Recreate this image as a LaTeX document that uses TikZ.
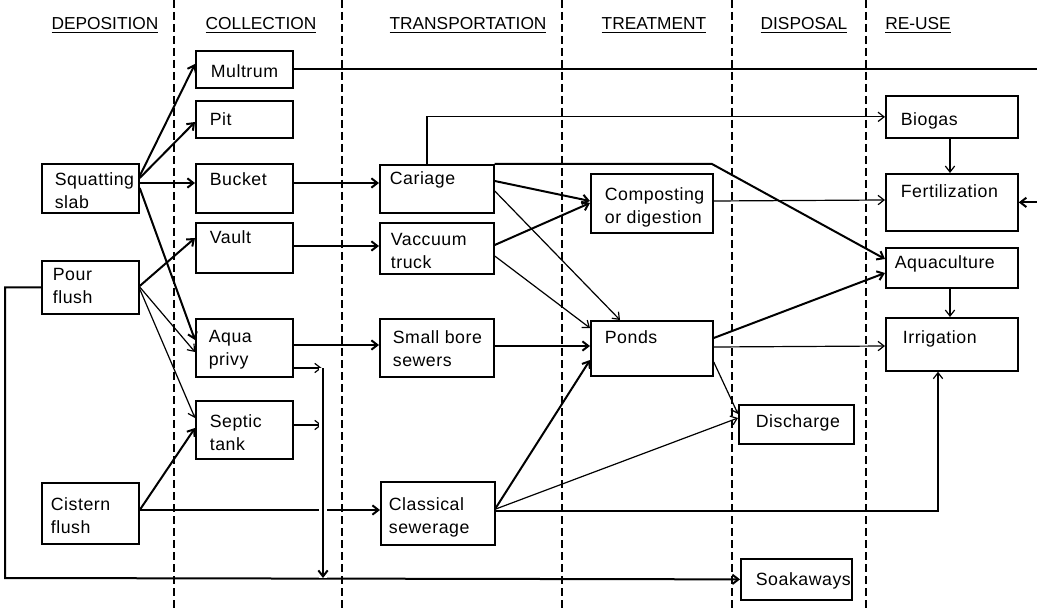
\documentclass[tikz,border=0pt]{standalone}
\usepackage{fontspec}
\setmainfont{Liberation Sans}[LetterSpace=3]
\newfontfamily\hdfont{Liberation Sans}
\usetikzlibrary{arrows.meta}
\newdimen\cw \newdimen\ch \newdimen\cl \newdimen\cb
\newcommand\cell[5]{%
  \cw=\dimexpr #1pt*3/4\relax \ch=\dimexpr #2pt*3/4\relax
  \cl=\dimexpr #3pt*3/4\relax \cb=\dimexpr #4pt*3/4\relax
  \begin{minipage}[c][\ch][t]{\cw}\raggedright\leftskip=\cl\baselineskip=17pt
  \rule{0pt}{\cb}#5\end{minipage}}
\tikzset{
  box/.style={draw, rectangle, line width=1.3pt, inner sep=0pt, anchor=north west,
    font=\fontsize{13.3pt}{17pt}\selectfont},
  hd/.style={anchor=base, inner sep=0pt, font=\hdfont\fontsize{13pt}{15pt}\selectfont},
  sep/.style={line width=0.9pt, dash pattern=on 6pt off 3pt},
  thk/.style={line width=1.5pt},
  thn/.style={line width=0.9pt},
  arr/.style={-{Straight Barb[length=4.5pt,width=7pt]}},
  gap/.style={preaction={draw=white, line width=6pt, -}},
}
\begin{document}
\begin{tikzpicture}[x=0.75pt, y=-0.75pt]
\useasboundingbox (0,0) rectangle (1037,609);
% column separators
\foreach \xx in {174,342,562,732,866} \draw[sep] (\xx,0) -- (\xx,609);
% headers
\node[hd] (h1) at (105,30) {\underline{DEPOSITION}};
\node[hd] (h2) at (261,30) {\underline{COLLECTION}};
\node[hd] (h3) at (468,30) {\underline{TRANSPORTATION}};
\node[hd] (h4) at (654,30) {\underline{TREATMENT}};
\node[hd] (h5) at (804,30) {\underline{DISPOSAL}};
\node[hd] (h6) at (918,30) {\underline{RE-USE}};
% deposition
\node[box] (slab) at (41,163) {\cell{97}{49}{13}{22}{Squatting\\slab}};
\node[box] (pour) at (41,260) {\cell{97}{53}{11}{20}{Pour\\flush}};
\node[box] (cistern) at (41,482) {\cell{97}{61}{9}{28}{Cistern\\flush}};
% collection
\node[box] (multrum) at (195,50) {\cell{97}{37}{15}{27}{Multrum}};
\node[box] (pit) at (195,100) {\cell{97}{37}{14}{25}{Pit}};
\node[box] (bucket) at (195,163) {\cell{97}{49}{14}{22}{Bucket}};
\node[box] (vault) at (195,222) {\cell{97}{50}{14}{21}{Vault}};
\node[box] (aqua) at (195,318) {\cell{97}{58}{13}{24}{Aqua\\privy}};
\node[box] (septic) at (195,400) {\cell{97}{58}{14}{27}{Septic\\tank}};
% transportation
\node[box] (carriage) at (379,164) {\cell{114}{48}{10}{20}{Cariage}};
\node[box] (vacuum) at (379,222) {\cell{114}{51}{11}{23}{Vaccuum\\truck}};
\node[box] (sbs) at (379,318) {\cell{114}{58}{13}{25}{Small bore\\sewers}};
\node[box] (classical) at (380,481) {\cell{114}{63}{8}{29}{Classical\\sewerage}};
% treatment
\node[box] (compost) at (590,173) {\cell{122}{59}{14}{27}{Composting\\or digestion}};
\node[box] (ponds) at (590,320) {\cell{122}{55}{14}{23}{Ponds}};
% disposal
\node[box] (discharge) at (738,404) {\cell{115}{39}{17}{23}{Discharge}};
\node[box] (soak) at (740,558) {\cell{111}{41}{15}{27}{Soakaways}};
% re-use
\node[box] (biogas) at (885,95) {\cell{132}{42}{15}{30}{Biogas}};
\node[box] (fert) at (885,173) {\cell{132}{57}{15}{24}{Fertilization}};
\node[box] (aquac) at (885,247) {\cell{132}{40}{9}{21}{Aquaculture}};
\node[box] (irrig) at (885,317) {\cell{132}{53}{17}{26}{Irrigation}};
% drain line junctions
\coordinate (dtop) at (323,368);
\coordinate (dmid) at (323,425);
\coordinate (dbot) at (323,578);
% deposition -> collection
\draw[thk,arr] (slab.east |- 0,176) -- (multrum.west |- 0,64);
\draw[thk,arr] (slab.east |- 0,178) -- (pit.west |- 0,122);
\draw[thk,arr] (slab.east |- 0,183) -- (bucket.west |- 0,183);
\draw[thk,arr] (slab.east |- 0,188) -- (aqua.west |- 0,340);
\draw[thk,arr] (pour.east |- 0,286) -- (vault.west |- 0,238);
\draw[thn,arr] (pour.east |- 0,287) -- (aqua.west |- 0,352);
\draw[thn,arr] (pour.east |- 0,289) -- (septic.west |- 0,418);
\draw[thk,arr] (cistern.east |- 0,510) -- (septic.west |- 0,428);
\draw[thk,arr] (cistern.east |- 0,510) -- (classical.west |- 0,510);
\draw[thk,arr] (pour.west) -| (5,578) -- (soak.west);
% drain
\draw[thn,arr] (aqua.east |- dtop) -- ([xshift=-1pt]dtop);
\draw[thn,arr] (septic.east |- dmid) -- ([xshift=-1pt]dmid);
\draw[thk,arr,gap] (dtop) -- (dbot);
% collection -> transportation
\draw[thk] (multrum.east) -| ([xshift=30pt]fert.east);
\draw[thk,arr] ([xshift=30pt]fert.east) -- (fert.east);
\draw[thk,arr] (bucket.east |- 0,183) -- (carriage.west |- 0,183);
\draw[thk,arr] (vault.east |- 0,246) -- (vacuum.west |- 0,246);
\draw[thk,arr] (aqua.east |- 0,345) -- (sbs.west |- 0,345);
% transportation -> treatment / re-use
\draw[thn,arr] (carriage.north -| 427,0) |- (biogas.west);
\draw[thk,arr] (carriage.north east) -- (712,164) -- (aquac.west |- 0,259);
\draw[thk,arr] (carriage.east |- 0,181) -- (compost.west |- 0,201);
\draw[thn,arr] (carriage.east |- 0,191) -- (ponds.north -| 620,0);
\draw[thk,arr] (vacuum.east |- 0,245) -- (compost.west |- 0,203);
\draw[thn,arr] (vacuum.east |- 0,256) -- (ponds.west |- 0,328);
\draw[thk,arr] (sbs.east |- 0,346) -- (ponds.west |- 0,346);
\draw[thk,arr] (classical.east |- 0,508) -- (ponds.west |- 0,360);
\draw[thn,arr] (classical.east |- 0,509) -- (discharge.west |- 0,418);
\draw[thn,arr] (classical.east |- 0,511) -| (irrig.south -| 938,0);
% treatment -> disposal / re-use
\draw[thn,arr] (compost.east |- 0,201) -- (fert.west |- 0,200);
\draw[thk,arr] (ponds.east |- 0,338) -- (aquac.west |- 0,273);
\draw[thn,arr] (ponds.east |- 0,347) -- (irrig.west |- 0,346);
\draw[thn,arr] (ponds.east |- 0,362) -- (discharge.west |- 0,414);
% re-use internal
\draw[thn,arr] (biogas.south -| 950,0) -- (fert.north -| 950,0);
\draw[thn,arr] (aquac.south -| 950,0) -- (irrig.north -| 950,0);
\end{tikzpicture}
\end{document}
